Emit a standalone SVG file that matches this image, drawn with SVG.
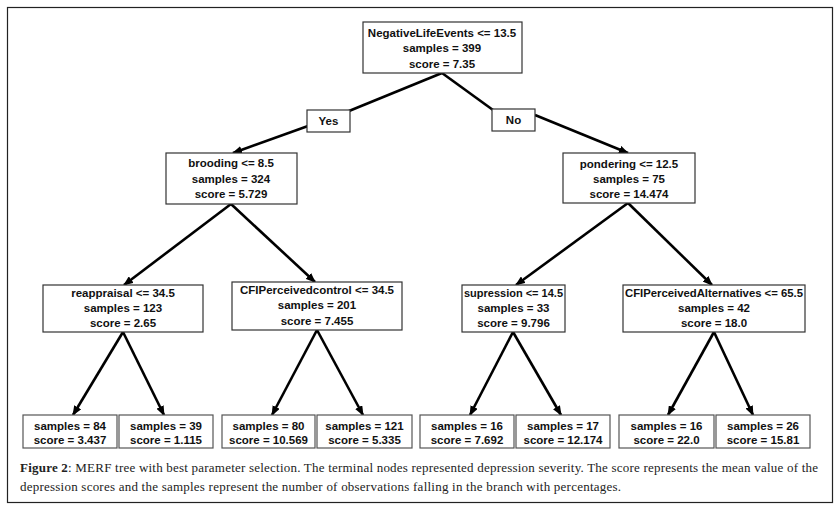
<svg xmlns="http://www.w3.org/2000/svg" width="840" height="514" viewBox="0 0 840 514">
<defs>
<marker id="ah" markerWidth="10" markerHeight="8" refX="9" refY="4" orient="auto" markerUnits="userSpaceOnUse">
<path d="M0,0 L10,4 L0,8 Z" fill="#000"/>
</marker>
<style>
.box{fill:#fff;stroke:#333;stroke-width:1.2}
.leaf{fill:#fff;stroke:#555;stroke-width:1.2}
.t{font-family:"Liberation Sans",Arial,sans-serif;font-weight:bold;font-size:11.5px;fill:#111;text-anchor:middle}
.e{stroke:#000;stroke-width:2.6;fill:none}
.cap{font-family:"Liberation Serif","Times New Roman",serif;font-size:13px;fill:#222}
</style>
</defs>
<rect x="7.5" y="7.5" width="825" height="495" fill="#fff" stroke="#222" stroke-width="1.2"/>
<g id="connectors">
<line class="e" x1="442" y1="73" x2="349" y2="111"/>
<line class="e" x1="308" y1="126" x2="233" y2="153" marker-end="url(#ah)"/>
<line class="e" x1="442" y1="73" x2="493" y2="110"/>
<line class="e" x1="535" y1="115" x2="628" y2="153" marker-end="url(#ah)"/>
<line class="e" x1="231" y1="204" x2="124" y2="285" marker-end="url(#ah)"/>
<line class="e" x1="231" y1="204" x2="315" y2="282" marker-end="url(#ah)"/>
<line class="e" x1="628" y1="203" x2="516" y2="285" marker-end="url(#ah)"/>
<line class="e" x1="628" y1="203" x2="712" y2="285" marker-end="url(#ah)"/>
<line class="e" x1="123" y1="332" x2="73" y2="415" marker-end="url(#ah)"/>
<line class="e" x1="123" y1="332" x2="164" y2="415" marker-end="url(#ah)"/>
<line class="e" x1="317" y1="330" x2="272" y2="415" marker-end="url(#ah)"/>
<line class="e" x1="317" y1="330" x2="363" y2="415" marker-end="url(#ah)"/>
<line class="e" x1="513" y1="332" x2="470" y2="415" marker-end="url(#ah)"/>
<line class="e" x1="513" y1="332" x2="561" y2="415" marker-end="url(#ah)"/>
<line class="e" x1="714" y1="332" x2="668" y2="415" marker-end="url(#ah)"/>
<line class="e" x1="714" y1="332" x2="753" y2="415" marker-end="url(#ah)"/>
</g>
<g id="root">
<rect class="box" x="363" y="22" width="159" height="51"/>
<text class="t" x="442" y="37">NegativeLifeEvents &lt;= 13.5</text>
<text class="t" x="442" y="52">samples = 399</text>
<text class="t" x="442" y="68">score = 7.35</text>
</g>
<g id="yes">
<rect class="box" x="307" y="110" width="43" height="22"/>
<text class="t" x="328.5" y="125">Yes</text>
</g>
<g id="no">
<rect class="box" x="492" y="109" width="43" height="22"/>
<text class="t" x="513.5" y="124">No</text>
</g>
<g id="brooding">
<rect class="box" x="166" y="153" width="131" height="51"/>
<text class="t" x="231" y="167">brooding &lt;= 8.5</text>
<text class="t" x="231" y="183">samples = 324</text>
<text class="t" x="231" y="198">score = 5.729</text>
</g>
<g id="pondering">
<rect class="box" x="563" y="153" width="132" height="50"/>
<text class="t" x="629" y="168">pondering &lt;= 12.5</text>
<text class="t" x="629" y="183">samples = 75</text>
<text class="t" x="629" y="198">score = 14.474</text>
</g>
<g id="reappraisal">
<rect class="box" x="43" y="285" width="160" height="47"/>
<text class="t" x="123" y="297">reappraisal &lt;= 34.5</text>
<text class="t" x="123" y="312">samples = 123</text>
<text class="t" x="123" y="327">score = 2.65</text>
</g>
<g id="cfi-control">
<rect class="box" x="232" y="282" width="170" height="48"/>
<text class="t" x="317" y="294">CFIPerceivedcontrol &lt;= 34.5</text>
<text class="t" x="317" y="309">samples = 201</text>
<text class="t" x="317" y="325">score = 7.455</text>
</g>
<g id="supression">
<rect class="box" x="462" y="285" width="103" height="47"/>
<text class="t" x="513.5" y="297" textLength="99" lengthAdjust="spacingAndGlyphs">supression &lt;= 14.5</text>
<text class="t" x="513.5" y="312">samples = 33</text>
<text class="t" x="513.5" y="327">score = 9.796</text>
</g>
<g id="cfi-alternatives">
<rect class="box" x="623" y="285" width="182" height="47"/>
<text class="t" x="714" y="297" textLength="178" lengthAdjust="spacingAndGlyphs">CFIPerceivedAlternatives &lt;= 65.5</text>
<text class="t" x="714" y="312">samples = 42</text>
<text class="t" x="714" y="327">score = 18.0</text>
</g>
<g id="leaf1">
<rect class="leaf" x="23" y="415" width="94" height="33"/>
<text class="t" x="70" y="430">samples = 84</text>
<text class="t" x="70" y="444">score = 3.437</text>
</g>
<g id="leaf2">
<rect class="leaf" x="119" y="415" width="94" height="33"/>
<text class="t" x="166" y="430">samples = 39</text>
<text class="t" x="166" y="444">score = 1.115</text>
</g>
<g id="leaf3">
<rect class="leaf" x="222" y="415" width="93" height="33"/>
<text class="t" x="268.5" y="430">samples = 80</text>
<text class="t" x="268.5" y="444">score = 10.569</text>
</g>
<g id="leaf4">
<rect class="leaf" x="317" y="415" width="95" height="33"/>
<text class="t" x="364.5" y="430">samples = 121</text>
<text class="t" x="364.5" y="444">score = 5.335</text>
</g>
<g id="leaf5">
<rect class="leaf" x="420" y="415" width="94" height="33"/>
<text class="t" x="467" y="430">samples = 16</text>
<text class="t" x="467" y="444">score = 7.692</text>
</g>
<g id="leaf6">
<rect class="leaf" x="516" y="415" width="94" height="33"/>
<text class="t" x="563" y="430">samples = 17</text>
<text class="t" x="563" y="444">score = 12.174</text>
</g>
<g id="leaf7">
<rect class="leaf" x="619" y="415" width="95" height="33"/>
<text class="t" x="666.5" y="430">samples = 16</text>
<text class="t" x="666.5" y="444">score = 22.0</text>
</g>
<g id="leaf8">
<rect class="leaf" x="716" y="415" width="94" height="33"/>
<text class="t" x="763" y="430">samples = 26</text>
<text class="t" x="763" y="444">score = 15.81</text>
</g>
<g id="caption">
<text class="cap" x="20" y="472" textLength="798" lengthAdjust="spacing"><tspan font-weight="bold">Figure 2</tspan>: MERF tree with best parameter selection. The terminal nodes represented depression severity. The score represents the mean value of the</text>
<text class="cap" x="20" y="491" textLength="601" lengthAdjust="spacing">depression scores and the samples represent the number of observations falling in the branch with percentages.</text>
</g>
</svg>
